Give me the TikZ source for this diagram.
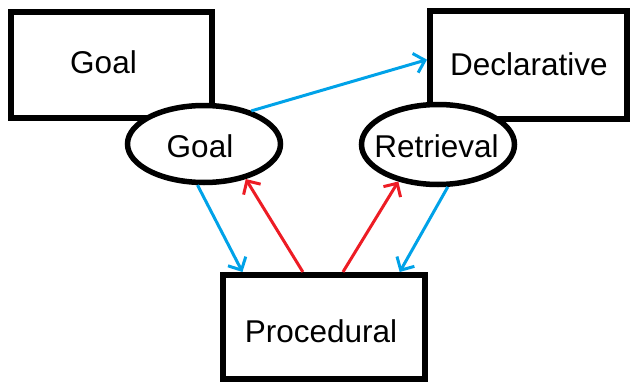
\documentclass[tikz,border=0pt]{standalone}
\usepackage{fontspec}
\setmainfont{Liberation Sans}
\usetikzlibrary{shapes.geometric,arrows.meta}
\definecolor{pblue}{RGB}{0,162,232}
\definecolor{pred}{RGB}{237,28,36}
\begin{document}
\begin{tikzpicture}[x=1pt,y=-1pt,
  txt/.style={font=\fontsize{31.5}{36}\selectfont, inner sep=0pt},
  box/.style={draw, line width=6pt, rectangle, inner sep=0pt, fill=white},
  oval/.style={draw, line width=5.5pt, ellipse, inner sep=0pt, fill=white},
  bluearrow/.style={draw=pblue, line width=3pt, -{Straight Barb[length=10pt,width=20pt]}},
  redarrow/.style={draw=pred, line width=3pt, -{Straight Barb[length=10pt,width=20pt]}}]
\useasboundingbox (0,0) rectangle (630,383);
\node[box, minimum width=201pt, minimum height=106pt,
  label={[txt,xshift=-8pt,yshift=3pt]center:Goal}] (gbox) at (111.5,65) {};
\node[box, minimum width=197pt, minimum height=108pt,
  label={[txt,xshift=0.5pt,yshift=1pt]center:Declarative}] (decl) at (528.5,65) {};
\node[box, minimum width=202pt, minimum height=104pt,
  label={[txt,xshift=-3pt,yshift=-4pt]center:Procedural}] (proc) at (324,327) {};
\node[oval, minimum width=153pt, minimum height=77pt,
  label={[txt,xshift=-4pt,yshift=-2pt]center:Goal}] (gell) at (204,144) {};
\node[oval, minimum width=153pt, minimum height=80pt,
  label={[txt,xshift=-1.5pt,yshift=-1.5pt]center:Retrieval}] (rell) at (438,144.5) {};
\draw[bluearrow] (gell.35) -- (decl.177);
\draw[bluearrow] (gell.261) -- (proc.146);
\draw[redarrow] (proc.111) -- (gell.320);
\draw[redarrow] (proc.71) -- (rell.223);
\draw[bluearrow] (rell.283) -- (proc.36);
\end{tikzpicture}
\end{document}
